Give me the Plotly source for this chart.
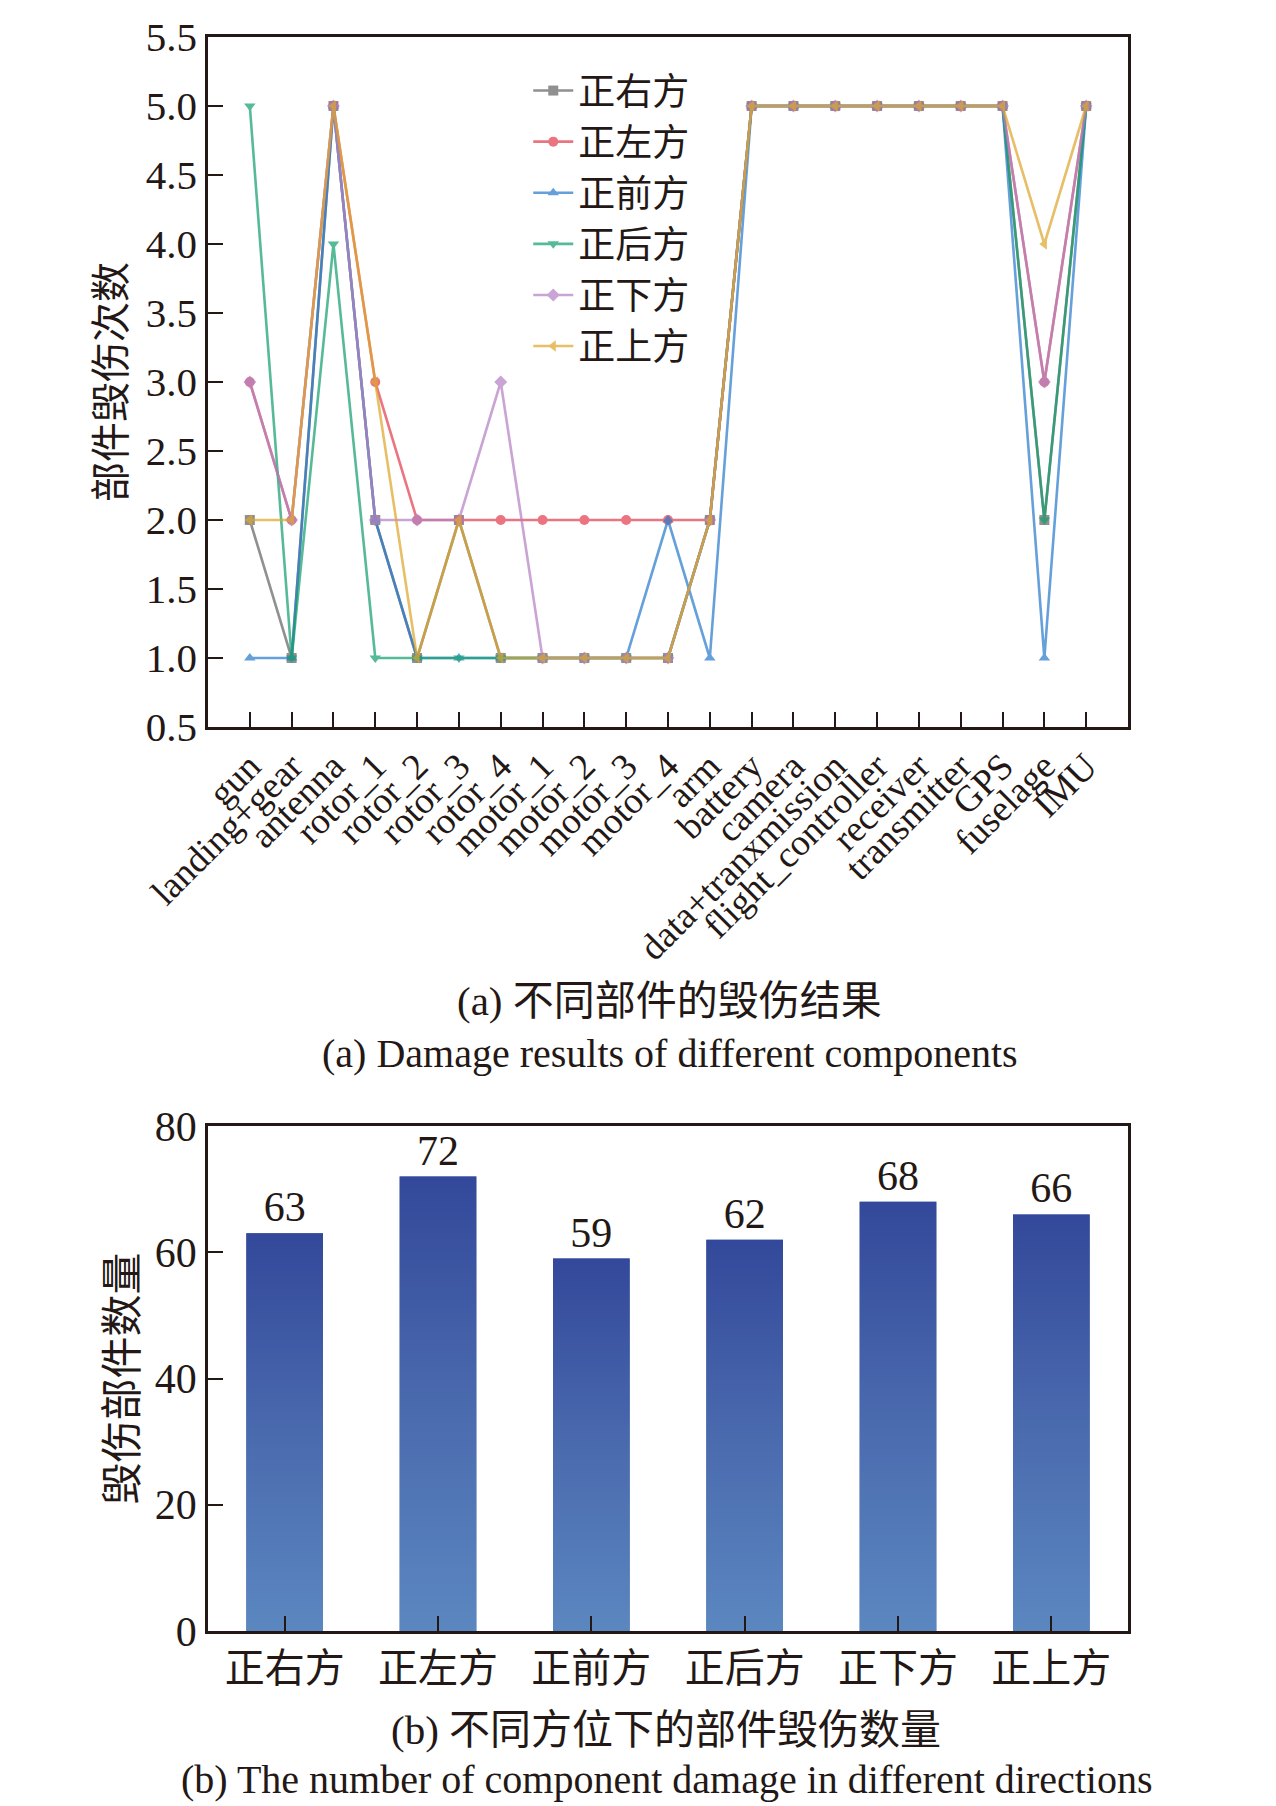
import plotly.graph_objects as go

# ---------------- data ----------------
components = ["gun", "landing+gear", "antenna", "rotor_1", "rotor_2", "rotor_3", "rotor_4",
              "motor_1", "motor_2", "motor_3", "motor_4", "arm", "battery", "camera",
              "data+tranxmission", "flight_controller", "receiver", "transmitter", "GPS",
              "fuselage", "IMU"]

right_side = [2, 1, 5, 2, 1, 2, 1, 1, 1, 1, 1, 2, 5, 5, 5, 5, 5, 5, 5, 2, 5]   # 正右方
left_side  = [3, 2, 5, 3, 2, 2, 2, 2, 2, 2, 2, 2, 5, 5, 5, 5, 5, 5, 5, 3, 5]   # 正左方
front_side = [1, 1, 5, 2, 1, 1, 1, 1, 1, 1, 2, 1, 5, 5, 5, 5, 5, 5, 5, 1, 5]   # 正前方
back_side  = [5, 1, 4, 1, 1, 1, 1, 1, 1, 1, 1, 2, 5, 5, 5, 5, 5, 5, 5, 2, 5]   # 正后方
below_side = [3, 2, 5, 2, 2, 2, 3, 1, 1, 1, 1, 2, 5, 5, 5, 5, 5, 5, 5, 3, 5]   # 正下方
above_side = [2, 2, 5, 3, 1, 2, 1, 1, 1, 1, 1, 2, 5, 5, 5, 5, 5, 5, 5, 4, 5]   # 正上方

series_names = ["正右方", "正左方", "正前方", "正后方", "正下方", "正上方"]
series_values = [right_side, left_side, front_side, back_side, below_side, above_side]

directions = ["正右方", "正左方", "正前方", "正后方", "正下方", "正上方"]
damaged_counts = [63, 72, 59, 62, 68, 66]

y1_ticks = [0.5, 1.0, 1.5, 2.0, 2.5, 3.0, 3.5, 4.0, 4.5, 5.0, 5.5]
y2_ticks = [0, 20, 40, 60, 80]

# ---------------- styles ----------------
colors = ["#666666", "#e2404f", "#2a7ccc", "#16a070", "#b582c4", "#dea72c"]
symbols = ["square", "circle", "triangle-up", "triangle-down", "diamond", "triangle-left"]
FONT = "Liberation Serif, Times New Roman, Noto Sans CJK SC, serif"
INK = "#231815"
W, H = 1276, 1806

def py(px):
    return 1 - px / H

fig = go.Figure()

for name, vals, col, sym in zip(series_names, series_values, colors, symbols):
    fig.add_trace(go.Scatter(
        x=components, y=vals, name=name, mode="lines+markers",
        line=dict(color=col, width=2.6),
        marker=dict(symbol=sym, size=10, color=col),
        opacity=0.72, xaxis="x", yaxis="y", cliponaxis=False))

idx = list(range(len(directions)))
fig.add_trace(go.Bar(
    x=idx, y=damaged_counts, width=0.5, marker=dict(color="#4866ab", line=dict(width=0)),
    text=[str(v) for v in damaged_counts], textposition="outside",
    textfont=dict(family=FONT, size=42, color=INK),
    cliponaxis=False, showlegend=False, xaxis="x2", yaxis="y2"))

# gradient overlay for each bar
for i, v in zip(idx, damaged_counts):
    fig.add_trace(go.Scatter(
        x=[i - 0.25, i - 0.25, i + 0.25, i + 0.25, i - 0.25],
        y=[0, v, v, 0, 0], mode="lines", line=dict(width=0),
        fill="toself",
        fillgradient=dict(type="vertical",
                          colorscale=[[0, "#5b87c0"], [0.5, "#4a6aae"], [1, "#33489a"]]),
        hoverinfo="skip", showlegend=False, xaxis="x2", yaxis="y2"))

line_common = dict(showline=True, linecolor=INK, linewidth=2.5, mirror=True,
                   ticks="inside", ticklen=15, tickwidth=2.2, tickcolor=INK,
                   showgrid=False, zeroline=False, automargin=False)

fig.update_layout(
    width=W, height=H,
    margin=dict(l=0, r=0, t=0, b=0, autoexpand=False),
    paper_bgcolor="white", plot_bgcolor="white",
    font=dict(family=FONT, color=INK),
    xaxis=dict(domain=[208 / W, 1128 / W], anchor="y", type="category",
               range=[-1, len(components)], tickangle=-45,
               tickmode="array", tickvals=components, ticktext=components,
               tickfont=dict(family=FONT, size=37, color=INK), **line_common),
    yaxis=dict(domain=[py(727), py(37)], anchor="x", range=[0.5, 5.5],
               tickvals=y1_ticks, tickformat=".1f",
               tickfont=dict(family=FONT, size=41, color=INK),
               title=dict(text="部件毁伤次数", font=dict(family=FONT, size=40, color=INK), standoff=8),
               **line_common),
    xaxis2=dict(domain=[208 / W, 1128 / W], anchor="y2", range=[-0.5, len(directions) - 0.5],
                tickvals=idx, ticktext=directions,
                tickfont=dict(family=FONT, size=40, color=INK), **line_common),
    yaxis2=dict(domain=[py(1631), py(1126)], anchor="x2", range=[0, 80],
                tickvals=y2_ticks,
                tickfont=dict(family=FONT, size=42, color=INK),
                title=dict(text="毁伤部件数量", font=dict(family=FONT, size=42, color=INK), standoff=5),
                **line_common),
    legend=dict(x=0.414, y=py(60), xanchor="left", yanchor="top",
                bgcolor="rgba(0,0,0,0)", font=dict(family=FONT, size=37, color=INK),
                itemwidth=40, tracegroupgap=0),
    bargap=0.5,
)

caps = [("(a) 不同部件的毁伤结果", 1001, 0.525, 41),
        ("(a) Damage results of different components", 1053, 0.525, 40),
        ("(b) 不同方位下的部件毁伤数量", 1730, 0.522, 41),
        ("(b) The number of component damage in different directions", 1779, 0.5225, 40)]
for txt, ypx, xp, fs in caps:
    fig.add_annotation(text=txt, x=xp, y=py(ypx), xref="paper", yref="paper",
                       showarrow=False, xanchor="center", yanchor="middle",
                       font=dict(family=FONT, size=fs, color=INK))

fig.write_html("out.html", config={"displayModeBar": False},
               post_script="document.body.style.margin='0';document.body.style.padding='0';")
